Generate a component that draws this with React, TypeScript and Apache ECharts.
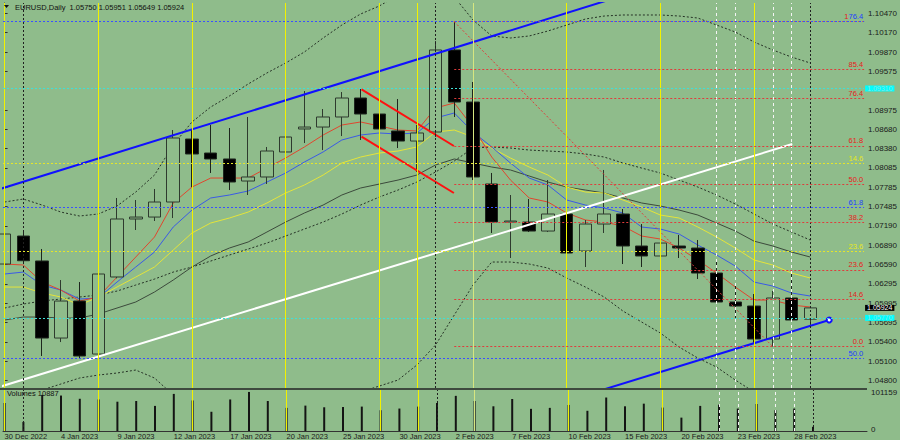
import React, { useEffect, useRef } from "react";
import * as echarts from "echarts";

const dates = [
  "30 Dec 2022", "2 Jan 2023", "3 Jan 2023", "4 Jan 2023", "5 Jan 2023", "6 Jan 2023",
  "9 Jan 2023", "10 Jan 2023", "11 Jan 2023", "12 Jan 2023", "13 Jan 2023",
  "16 Jan 2023", "17 Jan 2023", "18 Jan 2023", "19 Jan 2023", "20 Jan 2023",
  "23 Jan 2023", "24 Jan 2023", "25 Jan 2023", "26 Jan 2023", "27 Jan 2023",
  "30 Jan 2023", "31 Jan 2023", "1 Feb 2023", "2 Feb 2023", "3 Feb 2023",
  "6 Feb 2023", "7 Feb 2023", "8 Feb 2023", "9 Feb 2023", "10 Feb 2023",
  "13 Feb 2023", "14 Feb 2023", "15 Feb 2023", "16 Feb 2023", "17 Feb 2023",
  "20 Feb 2023", "21 Feb 2023", "22 Feb 2023", "23 Feb 2023", "24 Feb 2023",
  "27 Feb 2023", "28 Feb 2023", "1 Mar 2023",
];

const opens = [1.06601, 1.07033, 1.06648, 1.05459, 1.0603, 1.05212, 1.06401, 1.07296, 1.07326, 1.07558, 1.0853, 1.08314, 1.08222, 1.07882, 1.07944, 1.0833, 1.08685, 1.08715, 1.0887, 1.09163, 1.08916, 1.08654, 1.08499, 1.08638, 1.09904, 1.09101, 1.07836, 1.07249, 1.07249, 1.0711, 1.07373, 1.06802, 1.07218, 1.07373, 1.06879, 1.06725, 1.06879, 1.06848, 1.06462, 1.06015, 1.05953, 1.05444, 1.06077, 1.0575];
const closes = [1.07064, 1.06652, 1.05459, 1.0603, 1.05182, 1.06447, 1.07296, 1.07326, 1.07558, 1.08546, 1.08299, 1.08222, 1.07867, 1.07944, 1.08345, 1.08561, 1.08715, 1.0887, 1.09163, 1.08916, 1.08685, 1.08499, 1.08623, 1.09904, 1.09101, 1.07944, 1.07249, 1.07265, 1.0711, 1.07373, 1.06771, 1.07218, 1.07373, 1.06879, 1.06725, 1.06925, 1.06848, 1.06462, 1.06015, 1.05953, 1.05444, 1.06077, 1.05737, 1.05924];
const highs = [1.07141, 1.0711, 1.06833, 1.06354, 1.06323, 1.06478, 1.0762, 1.07589, 1.07759, 1.08669, 1.08685, 1.08746, 1.087, 1.0887, 1.08407, 1.08592, 1.09271, 1.08993, 1.09255, 1.09317, 1.09009, 1.09147, 1.08746, 1.10043, 1.1034, 1.0941, 1.08006, 1.07666, 1.07604, 1.07897, 1.07527, 1.0728, 1.08052, 1.0745, 1.07218, 1.06987, 1.07049, 1.06972, 1.06632, 1.06262, 1.06138, 1.06185, 1.06447, 1.05951];
const lows = [1.06478, 1.06601, 1.05182, 1.05397, 1.05151, 1.04811, 1.0638, 1.07126, 1.07265, 1.07311, 1.07789, 1.08006, 1.07743, 1.07666, 1.07836, 1.08021, 1.08468, 1.0836, 1.08576, 1.08515, 1.08391, 1.08391, 1.08021, 1.08561, 1.0887, 1.07897, 1.0708, 1.06694, 1.07095, 1.07095, 1.06663, 1.06555, 1.0708, 1.06601, 1.06555, 1.06123, 1.06694, 1.0637, 1.05984, 1.05752, 1.05382, 1.05326, 1.05722, 1.05649];
const volumes = [72580, 23520, 93570, 91800, 83460, 81690, 75870, 77640, 65000, 96100, 79160, 49820, 81690, 101159, 77640, 59940, 65750, 61450, 62100, 63220, 53870, 58170, 63220, 72580, 91040, 77640, 63980, 82700, 57410, 59940, 67520, 52350, 86740, 63980, 70810, 60700, 34650, 65000, 68280, 58170, 70050, 53870, 58170, 10887];

const maRed = [1.06601, 1.06586, 1.06323, 1.062, 1.0603, 1.06092, 1.064, 1.06709, 1.07018, 1.07543, 1.07789, 1.07928, 1.07928, 1.07928, 1.08082, 1.08237, 1.08407, 1.08592, 1.08746, 1.08793, 1.08731, 1.08669, 1.08654, 1.09009, 1.09086, 1.08715, 1.08252, 1.07897, 1.0762, 1.07558, 1.07388, 1.0728, 1.07249, 1.07187, 1.07033, 1.06987, 1.06848, 1.06663, 1.06462, 1.06246, 1.06045, 1.06045, 1.05968, 1.05938];
const maBlue = [1.06447, 1.06477, 1.06277, 1.062, 1.06061, 1.06076, 1.06323, 1.06555, 1.06786, 1.07172, 1.07434, 1.0762, 1.07666, 1.07728, 1.07866, 1.08005, 1.08175, 1.0833, 1.08515, 1.08592, 1.08623, 1.08607, 1.08623, 1.08854, 1.08932, 1.08638, 1.08407, 1.0816, 1.07928, 1.0782, 1.07589, 1.07511, 1.07465, 1.07388, 1.07172, 1.07141, 1.07064, 1.06894, 1.0674, 1.0657, 1.06323, 1.06261, 1.06154, 1.06107];
const maYellow = [1.06246, 1.06246, 1.06154, 1.06092, 1.05968, 1.06092, 1.06246, 1.064, 1.06555, 1.06817, 1.0708, 1.07234, 1.07311, 1.07403, 1.07543, 1.07697, 1.0782, 1.07974, 1.0816, 1.08252, 1.08314, 1.08345, 1.08407, 1.08638, 1.08669, 1.08561, 1.08391, 1.08237, 1.08098, 1.07974, 1.07789, 1.07712, 1.07697, 1.07589, 1.07481, 1.07357, 1.07311, 1.07172, 1.07018, 1.06848, 1.06663, 1.06586, 1.06462, 1.06385];
const maGray = [1.05737, 1.05783, 1.05783, 1.05768, 1.05768, 1.05829, 1.05922, 1.06015, 1.06169, 1.06354, 1.06555, 1.06725, 1.06848, 1.06941, 1.07095, 1.07249, 1.07388, 1.07511, 1.07666, 1.07774, 1.07835, 1.07897, 1.07974, 1.08129, 1.08222, 1.0816, 1.08098, 1.08052, 1.07959, 1.07866, 1.07789, 1.07743, 1.07697, 1.0762, 1.07543, 1.07496, 1.07434, 1.07357, 1.07234, 1.0711, 1.06954, 1.06879, 1.06786, 1.06709];
const bbUpper = [1.07558, 1.07604, 1.07511, 1.07403, 1.07342, 1.07373, 1.07496, 1.07712, 1.07974, 1.08438, 1.08793, 1.09024, 1.09194, 1.09379, 1.09549, 1.09703, 1.09873, 1.10089, 1.10289, 1.10459, 1.10583, 1.10752, 1.1083, 1.1083, 1.10721, 1.10367, 1.1012, 1.10089, 1.1012, 1.10197, 1.10289, 1.10382, 1.10428, 1.10444, 1.10444, 1.10444, 1.10428, 1.10397, 1.10289, 1.10181, 1.10027, 1.09904, 1.09795, 1.09703];
const bbMiddle = [1.05922, 1.05984, 1.0603, 1.06061, 1.06092, 1.06123, 1.06184, 1.06277, 1.06369, 1.06477, 1.06555, 1.06647, 1.0674, 1.06832, 1.06925, 1.07033, 1.07141, 1.07249, 1.07373, 1.07511, 1.07635, 1.07743, 1.07866, 1.08021, 1.08191, 1.08391, 1.08407, 1.08391, 1.0836, 1.08345, 1.0833, 1.08299, 1.08252, 1.0816, 1.08082, 1.08005, 1.07897, 1.07789, 1.07666, 1.07527, 1.07373, 1.07218, 1.07095, 1.06971];
const bbLower = [1.04579, 1.0461, 1.04657, 1.04749, 1.04842, 1.04888, 1.04919, 1.04965, 1.04842, 1.04579, 1.04379, 1.04286, 1.04286, 1.04255, 1.0424, 1.04286, 1.0441, 1.04471, 1.04533, 1.04626, 1.04718, 1.04811, 1.05042, 1.05351, 1.05814, 1.06277, 1.06632, 1.06632, 1.06601, 1.06539, 1.06385, 1.06246, 1.06092, 1.05876, 1.05706, 1.05536, 1.0532, 1.0515, 1.05011, 1.04811, 1.04626, 1.04502, 1.0441, 1.04317];

const yTickLabels = ["1.10470", "1.10170", "1.09870", "1.09575", "1.08975", "1.08680", "1.08380", "1.08085", "1.07785", "1.07485", "1.07190", "1.06890", "1.06590", "1.06295", "1.05995", "1.05695", "1.05400", "1.05100", "1.04800"];
const xTickIndex = [0, 3, 6, 9, 12, 15, 18, 21, 24, 27, 30, 33, 36, 39, 42];

const fibRedLevels = [0, 14.6, 23.6, 38.2, 50, 61.8, 76.4, 85.4, 100];
const fibRedLabels = ["0.0", "14.6", "23.6", "38.2", "50.0", "61.8", "76.4", "85.4", ""];
const fibRedStart = [24, 1.1034];
const fibRedEnd = [41, 1.05326];
const fibBluePrices = [1.1034, 1.07481, 1.0515];
const fibBlueLabels = ["{r|1}{b|76.4}", "{b|61.8}", "{b|50.0}"];
const fibYellowPrices = [1.08155, 1.06802];
const fibYellowLabels = ["14.6", "23.6"];
const cyanPrices = [1.0931, 1.0577];
const cyanLabels = ["1.09310", "1.05770"];
const lastPrice = 1.05924;

const yellowVLines = [0, 5, 10, 15, 20, 22, 30, 35, 40];
const paleYellowVLines = [25];
const whiteVLines = [38, 39, 41, 42];
const blackVLines = [1, 23, 43];

const trendBlueUpper = [[-0.245, 1.07759], [34, 1.10834]];
const trendWhite = [[-0.245, 1.04708], [42.04, 1.08453]];
const trendBlueLower = [[30, 1.04489], [44.01, 1.05737]];
const flagUpper = [[19.05, 1.09297], [23.98, 1.08422]];
const flagLower = [[19.05, 1.08566], [23.98, 1.07697]];

const X_MIN = -0.0851;
const X_MAX = 45.872;
const Y_MIN = 1.04688;
const Y_MAX = 1.10629;
const VOL_MAX = 106200;

const BG = "#8fbc8b";
const FONT = "Liberation Sans, Arial, sans-serif";

function buildOption() {
  const candleData = opens.map((o, i) => [i, o, closes[i], lows[i], highs[i]]);
  const toXY = (arr: number[]) => arr.map((v, i) => [i, v]);
  const maLine = (name: string, arr: number[], color: string, type: any, z: number) => ({
    type: "line", name, xAxisIndex: 0, yAxisIndex: 0, data: toXY(arr), symbol: "none", showSymbol: false,
    lineStyle: { color, width: 1, type }, z, silent: true, clip: true,
  });
  const trend = (name: string, pts: number[][], color: string, width: number, type: any, z: number) => ({
    type: "line", name, xAxisIndex: 0, yAxisIndex: 0, data: pts, symbol: "none", showSymbol: false,
    lineStyle: { color, width, type }, z, silent: true, clip: true,
  });
  const dummy = (xi: number, yi: number, z: number, markLine: any) => ({
    type: "line", xAxisIndex: xi, yAxisIndex: yi, data: [[X_MIN - 5, -1]], symbol: "none", showSymbol: false,
    lineStyle: { opacity: 0 }, z, silent: true, clip: true,
    markLine: { precision: 6, symbol: ["none", "none"], silent: true, animation: false, ...markLine },
  });
  const vLines = (idx: number[], color: string, type: any) =>
    idx.map((i) => ({ xAxis: i, lineStyle: { color, width: 1, type } }));
  const vData = [
    ...vLines(yellowVLines, "#f2f200", "solid"),
    ...vLines(paleYellowVLines, "#d6e680", "solid"),
    ...vLines(whiteVLines, "#f4f4f4", [3, 3]),
    ...vLines(blackVLines, "#202020", [2, 2]),
  ];
  const fibLabel = (color: string) => ({
    show: true, position: "insideEndTop", formatter: "{b}", color, fontSize: 7.5, fontFamily: FONT, distance: 1,
  });
  const red = fibRedLevels.map((lv, k) => {
    const p = fibRedEnd[1] + ((fibRedStart[1] - fibRedEnd[1]) * lv) / 100;
    return [{ name: fibRedLabels[k], coord: [fibRedStart[0], p] }, { coord: [X_MAX, p] }];
  });
  const boxLabel = (text: string, color: string, bg: string) => ({
    show: true, position: "end", distance: 1, formatter: text, color, backgroundColor: bg,
    padding: [0, 2], fontSize: 7, fontFamily: FONT, lineHeight: 6,
  });

  return {
    animation: false,
    backgroundColor: BG,
    textStyle: { fontFamily: FONT },
    grid: [
      { left: 3, top: 3, width: 864, height: 385 },
      { left: 3, top: 390, width: 864, height: 42 },
    ],
    xAxis: [
      { type: "value", gridIndex: 0, min: X_MIN, max: X_MAX, show: false, splitLine: { show: false } },
      {
        type: "value", gridIndex: 1, min: X_MIN, max: X_MAX, splitLine: { show: false },
        axisLine: { show: true, lineStyle: { color: "#333", width: 1 } }, axisTick: { show: false },
        axisLabel: {
          customValues: xTickIndex, formatter: (v: number) => dates[Math.round(v)] || "",
          align: "left", margin: 1, fontSize: 7.5, color: "#1a1a1a", fontFamily: FONT,
          showMinLabel: true, showMaxLabel: true,
        },
      },
    ],
    yAxis: [
      {
        type: "value", gridIndex: 0, position: "right", min: Y_MIN, max: Y_MAX, scale: true,
        splitLine: { show: false },
        axisLine: { show: true, lineStyle: { color: "#333", width: 1 } },
        axisTick: { show: true, length: 3, customValues: yTickLabels.map(Number), lineStyle: { color: "#333" } },
        axisLabel: {
          customValues: yTickLabels.map(Number), formatter: (v: number) => v.toFixed(5),
          margin: 4, fontSize: 8, color: "#1a1a1a", fontFamily: FONT,
        },
      },
      {
        type: "value", gridIndex: 1, position: "right", min: 0, max: VOL_MAX, splitLine: { show: false },
        axisLine: { show: true, lineStyle: { color: "#333", width: 1 } }, axisTick: { show: false }, axisLabel: { show: false },
      },
    ],
    series: [
      dummy(0, 0, 1, { label: { show: false }, data: vData }),
      dummy(1, 1, 1, { label: { show: false }, data: vData }),
      dummy(0, 0, 1, {
        label: fibLabel("#e82020"),
        lineStyle: { color: "#e03c3c", width: 1, type: [2, 2] }, data: red,
      }),
      dummy(0, 0, 1, {
        label: fibLabel("#e8e820"),
        lineStyle: { color: "#e6e62a", width: 1, type: [2, 2] },
        data: fibYellowPrices.map((p, k) => ({ name: fibYellowLabels[k], yAxis: p })),
      }),
      dummy(0, 0, 1, {
        label: { show: false },
        lineStyle: { color: "#3fe0d8", width: 1, type: [2, 2] },
        data: cyanPrices.map((p, k) => ({ yAxis: p, label: boxLabel(cyanLabels[k], "#86e6e6", "#00ffff") })),
      }),
      dummy(0, 0, 1.5, {
        label: {
          ...fibLabel("#2040ff"),
          rich: {
            r: { color: "#e82020", fontSize: 7.5, fontFamily: FONT },
            b: { color: "#2040ff", fontSize: 7.5, fontFamily: FONT },
          },
        },
        lineStyle: { color: "#3a50ff", width: 1, type: [2, 2] },
        data: fibBluePrices.map((p, k) => ({ name: fibBlueLabels[k], yAxis: p })),
      }),
      maLine("bbUpper", bbUpper, "#263226", [2, 2], 2),
      maLine("bbMiddle", bbMiddle, "#263226", [2, 2], 2),
      maLine("bbLower", bbLower, "#263226", [2, 2], 2),
      maLine("maGray", maGray, "#3c4a3c", "solid", 2),
      maLine("maYellow", maYellow, "#e4e43a", "solid", 2),
      maLine("maBlue", maBlue, "#3a5ae6", "solid", 2),
      maLine("maRed", maRed, "#e0462e", "solid", 2),
      {
        type: "candlestick", name: "EURUSD", xAxisIndex: 0, yAxisIndex: 0, data: candleData,
        barWidth: 13, z: 3, silent: true, clip: true,
        itemStyle: { color: BG, color0: "#000000", borderColor: "#2e3a2e", borderColor0: "#1e261e", borderWidth: 1 },
      },
      trend("white", trendWhite, "#ffffff", 2, "solid", 4),
      trend("blueUpper", trendBlueUpper, "#1010ff", 2, "solid", 4),
      trend("flagUpper", flagUpper, "#ff1010", 2, "solid", 4),
      trend("flagLower", flagLower, "#ff1010", 2, "solid", 4),
      trend("fibDiag", [fibRedStart, fibRedEnd], "#e03c3c", 1, [2, 2], 4),
      {
        type: "line", name: "blueLower", xAxisIndex: 0, yAxisIndex: 0, z: 4, silent: true, clip: true,
        symbol: "none", showSymbol: true, lineStyle: { color: "#1010ff", width: 2 },
        data: [
          { value: trendBlueLower[0] },
          { value: trendBlueLower[1], symbol: "emptyCircle", symbolSize: 5, itemStyle: { color: "#1010ff", borderColor: "#1010ff", borderWidth: 1.5 } },
        ],
      },
      dummy(0, 0, 5, {
        lineStyle: { color: "transparent", width: 0 },
        data: [{ yAxis: lastPrice, label: boxLabel(lastPrice.toFixed(5), "#ffffff", "#000000") }],
      }),
      {
        type: "bar", name: "Volumes", xAxisIndex: 1, yAxisIndex: 1, data: toXY(volumes), barWidth: 2,
        itemStyle: { color: "#141414" }, z: 2, silent: true,
      },
    ],
    graphic: [
      { type: "rect", shape: { x: 0, y: 388, width: 867, height: 2 }, style: { fill: "#3e4a3e" }, z: 10 },
      { type: "polygon", shape: { points: [[4, 5], [9, 5], [6.5, 8]] }, style: { fill: "#111" }, z: 10 },
      {
        type: "text", left: 15, top: 3, z: 10,
        style: { text: "EURUSD,Daily  1.05750 1.05951 1.05649 1.05924", fill: "#111", fontSize: 7.5, fontFamily: FONT },
      },
      {
        type: "text", left: 7, top: 389, z: 10,
        style: { text: "Volumes 10887", fill: "#111", fontSize: 7.5, fontFamily: FONT },
      },
      { type: "text", left: 871, top: 388, z: 10, style: { text: "101159", fill: "#1a1a1a", fontSize: 8, fontFamily: FONT } },
      { type: "text", left: 871, top: 425, z: 10, style: { text: "0", fill: "#1a1a1a", fontSize: 8, fontFamily: FONT } },
    ],
  };
}

export default function App() {
  const ref = useRef<HTMLDivElement>(null);
  useEffect(() => {
    if (!ref.current) return;
    const chart = echarts.init(ref.current, null, { renderer: "svg" });
    chart.setOption(buildOption() as any);
    return () => chart.dispose();
  }, []);
  return <div ref={ref} style={{ position: "absolute", left: 0, top: 0, width: 900, height: 440 }} />;
}
